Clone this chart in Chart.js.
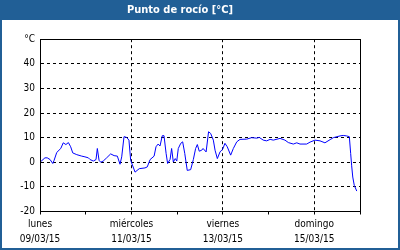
<!DOCTYPE html>
<html>
<head>
<meta charset="utf-8">
<script src="https://cdn.jsdelivr.net/npm/chart.js@4/dist/chart.umd.min.js"></script>
<style>
html,body{margin:0;padding:0;background:#fff;}
#c{display:block;}
</style>
</head>
<body>
<canvas id="c" width="400" height="250"></canvas>
<script>
// Hours since lunes 09/03/15 00:00
const hours = [0,2.6,3.8,5.3,6.7,7.4,8.8,10.9,12.2,13.6,14.9,16.1,17.2,19.3,21.9,23.6,25.4,26.3,28,29.4,30.1,31,31.9,33.2,35,37.1,38.9,40.6,42,42.9,44.1,45.5,46.7,47.6,49.9,52.1,55.1,56.3,57.8,59.9,60.9,62,63,64.2,65.1,66.2,67,68.3,69.1,70,71,71.8,72.6,73.9,74.9,76,77.3,79.1,80.5,81.7,82.6,83.6,84.9,85.6,87.2,88.5,89.6,91,91.9,93.1,94.5,95.9,97.1,98.3,100.1,101.5,103.3,105,108.5,111.1,113.8,115.1,117.2,119,120.8,122.5,126,128.6,130.4,133,134.8,136.5,140,141.8,144.4,147,149.6,152.3,154,157.5,159.2,161,162.4,163.1,163.6,164.2,165,166.3];
const dewPoint = [0,1.8,1.8,1.1,-0.5,0.8,4,5.6,7.9,7.2,8,6.3,3.8,3.1,2.5,2.2,1.8,1.1,0.5,1.1,5.6,0.8,0,0.5,1.8,3.4,2.7,2.5,-0.8,2.2,10.4,10.1,9,0.8,-4,-2.6,-2.3,-1.9,1.1,2.5,6.3,7.4,6.6,10.8,10.8,3.6,-0.5,1.2,5.6,0.1,1.5,0.5,5.6,7.7,8.3,3.6,-3.3,-3,1.1,5.6,7.2,4.5,4.9,5.6,4.2,12.4,11.7,9,4.9,1.5,4.2,5.3,7.7,6.3,2.9,5.6,8.3,9.3,9.4,10,9.8,10.1,9,8.7,9.3,9,9.7,9,8,7.4,7.9,7.4,7.4,8.2,9,8.7,7.9,9.2,10,10.7,10.9,10.7,10.4,3.6,-1.2,-6,-9.4,-11.7];
const dayLabels = {0:['lunes','09/03/15'],48:['miércoles','11/03/15'],96:['viernes','13/03/15'],144:['domingo','15/03/15']};
const gridDays = [48,96,144];
const yTopLabel = '°C';
const titleText = 'Punto de rocío [°C]';

const FONT = "'DejaVu Sans Condensed','DejaVu Sans',sans-serif";
const frameBlue = '#215f96';

const framePlugin = {
  id:'frame',
  beforeDraw(chart){
    const ctx = chart.ctx, W = chart.width, H = chart.height;
    ctx.save();
    ctx.fillStyle = '#ffffff';
    ctx.fillRect(0,0,W,H);
    ctx.fillStyle = frameBlue;
    ctx.fillRect(0,0,W,20);
    ctx.fillRect(0,0,2,H);
    ctx.fillRect(W-2,0,2,H);
    ctx.fillRect(0,H-2,W,2);
    ctx.restore();
  },
  afterDraw(chart){
    const a = chart.chartArea, ctx = chart.ctx;
    ctx.save();
    ctx.strokeStyle = '#000';
    ctx.lineWidth = 1;
    ctx.strokeRect(Math.round(a.left)+0.5, Math.round(a.top)+0.5, Math.round(a.right-a.left), Math.round(a.bottom-a.top));
    ctx.restore();
  }
};

new Chart(document.getElementById('c'), {
  type:'line',
  data:{
    datasets:[{
      data: hours.map((h,i)=>({x:h,y:dewPoint[i]})),
      borderColor:'#0000ff',
      borderWidth:1,
      pointRadius:0,
      tension:0,
      fill:false
    }]
  },
  options:{
    responsive:false,
    animation:false,
    devicePixelRatio:1,
    layout:{padding:{left:0,right:40,top:0,bottom:4}},
    plugins:{
      legend:{display:false},
      tooltip:{enabled:false},
      title:{
        display:true,
        text:titleText,
        color:'#ffffff',
        font:{family:FONT,size:11,weight:'bold'},
        padding:{top:4,bottom:22}
      }
    },
    scales:{
      x:{
        type:'linear',
        min:0,max:168,
        grid:{
          color:(c)=> gridDays.includes(c.tick && c.tick.value) ? '#000' : 'rgba(0,0,0,0)',
          tickColor:'#000',
          tickLength:3,
          lineWidth:1
        },
        border:{display:true,color:'#000',dash:[3,3]},
        ticks:{
          stepSize:24,
          autoSkip:false,
          maxRotation:0,
          padding:3,
          color:'#000',
          font:{family:FONT,size:10,lineHeight:1.45},
          callback:(v)=> dayLabels[v] || ''
        },
        afterFit:(s)=>{ s.height = 34.5; }
      },
      y:{
        min:-20,max:50,
        grid:{
          color:(c)=> (c.tick && c.tick.value>-20 && c.tick.value<50) ? '#000' : 'rgba(0,0,0,0)',
          drawTicks:false,
          lineWidth:1
        },
        border:{display:true,color:'#000',dash:[3,3]},
        ticks:{
          stepSize:10,
          padding:5,
          color:'#000',
          font:{family:FONT,size:10},
          callback:(v)=> v===50 ? yTopLabel : String(v)
        },
        afterFit:(s)=>{ s.width = 40; }
      }
    }
  },
  plugins:[framePlugin]
});
</script>
</body>
</html>
